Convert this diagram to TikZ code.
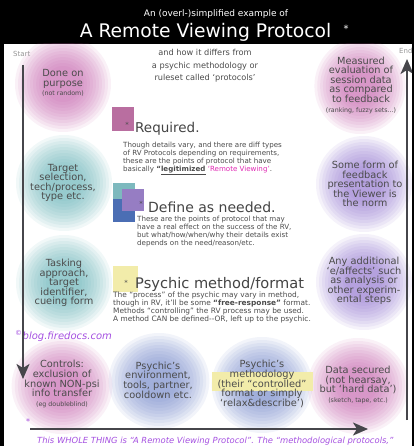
\documentclass[tikz,border=0pt]{standalone}
\usepackage{fontspec}
\setmainfont{DejaVu Sans}
\usetikzlibrary{arrows.meta}
\definecolor{txt}{RGB}{75,75,75}
\definecolor{gpink}{RGB}{200,100,175}
\definecolor{gteal}{RGB}{100,180,185}
\definecolor{gpurple}{RGB}{145,115,210}
\definecolor{gblue}{RGB}{115,135,205}
\definecolor{sqpink}{RGB}{185,110,160}
\definecolor{sqteal}{RGB}{125,185,190}
\definecolor{sqblue}{RGB}{75,110,180}
\definecolor{sqpurple}{RGB}{150,125,195}
\definecolor{sqyellow}{RGB}{242,236,170}
\definecolor{rvpink}{RGB}{225,40,180}
\definecolor{footpurple}{RGB}{165,80,225}
\definecolor{arrowgray}{RGB}{70,70,75}
\definecolor{labelgray}{RGB}{150,150,150}
\newcommand\glowblob[4]{%
  \foreach \rr in {48,45,...,18}{\fill[#3,opacity=0.09] (#1,#2) ellipse ({#4*\rr pt} and {\rr pt});}}
\newcommand\smalltxt[1]{{\fontsize{6.3}{8}\selectfont #1}}
\tikzset{
  circ/.style={text=txt, align=center, font=\fontsize{9.8}{9.6}\selectfont, inner sep=0pt},
  body/.style={text=txt, align=left, font=\fontsize{7.1}{8}\selectfont, inner sep=0pt, anchor=north west},
  head/.style={text=txt!90!black, font=\fontsize{13.5}{14}\selectfont, inner sep=0pt, anchor=base west},
  hstar/.style={text=txt, font=\fontsize{7}{8}\selectfont, inner sep=0pt},
  arr/.style={draw=arrowgray, line width=2pt, -{Stealth[length=15pt, width=13pt, inset=4pt]}},
  corner/.style={text=labelgray, font=\fontsize{7}{8}\selectfont, inner sep=0pt}
}
\begin{document}
\begin{tikzpicture}[x=1pt, y=-1pt]
\useasboundingbox (0,0) rectangle (414,446);
\fill[black] (0,0) rectangle (414,446);
\fill[white] (4,44) rectangle (412,446);
\node[white, font=\fontsize{9}{10}\selectfont, inner sep=0pt] (t1) at (216,14) {An (overl-)simplified example of};
\node[white, font=\fontsize{18.7}{20}\selectfont, inner sep=0pt] (t2) at (205.5,32) {A Remote Viewing Protocol};
\node[white, font=\fontsize{10}{10}\selectfont, inner sep=0pt] (t3) at (346,29) {*};
\begin{scope}
\clip (4,44) rectangle (412,446);
% glows
\glowblob{63}{84}{gpink}{1}
\glowblob{64}{183}{gteal}{1}
\glowblob{64}{283}{gteal}{1}
\glowblob{62}{386}{gpink}{1.05}
\glowblob{159}{381}{gblue}{1.05}
\glowblob{262}{385}{gblue}{1.05}
\glowblob{358}{386}{gpink}{1.05}
\glowblob{364}{282}{gpurple}{1}
\glowblob{364}{184}{gpurple}{1}
\glowblob{360}{86}{gpink}{0.95}
% corner labels
\node[corner, anchor=west] (start) at (13,54) {Start};
\node[corner, anchor=west] (endl) at (399,51) {End};
% subtitle
\node[text=txt, align=center, font=\fontsize{8.2}{12.5}\selectfont, inner sep=0pt] (sub) at (205,66)
  {and how it differs from\\a psychic methodology or\\ruleset called ‘protocols’};
% Required
\fill[sqpink] (112,107) rectangle (134,131);
\node[hstar] (s1) at (127,125) {*};
\node[head] (req) at (135,133) {Required.};
\node[body] (reqb) at (123,142) {Though details vary, and there are diff types\\of RV Protocols depending on requirements,\\these are the points of protocol that have\\basically \textbf{“\underline{legitimized}} {\color{rvpink}‘Remote Viewing’}.};
% Define
\fill[sqteal] (113,183) rectangle (135,199);
\fill[sqblue] (113,199) rectangle (135,222);
\fill[sqpurple] (122,189) rectangle (144,211);
\node[hstar] (s2) at (141,204) {*};
\node[head, font=\fontsize{14}{15}\selectfont] (def) at (148,212) {Define as needed.};
\node[body] (defb) at (137,216) {These are the points of protocol that may\\have a real effect on the success of the RV,\\but what/how/when/why their details exist\\depends on the need/reason/etc.};
% Psychic method
\fill[sqyellow] (113,266) rectangle (138,292);
\node[hstar] (s3) at (126,283) {*};
\node[head, font=\fontsize{14.6}{15}\selectfont] (psy) at (135,288) {Psychic method/format};
\node[body, font=\fontsize{7.4}{8}\selectfont] (psyb) at (113,292) {The “process” of the psychic may vary in method,\\though in RV, it’ll be some \textbf{“free-response”} format.\\Methods “controlling” the RV process may be used.\\A method CAN be defined{-}{-}OR, left up to the psychic.};
% blog
\node[anchor=west, text=footpurple, font=\fontsize{10}{10}\selectfont\itshape, inner sep=0pt] (blog) at (15,336) {\textsuperscript{©}blog.firedocs.com};
% highlight
\fill[sqyellow] (212,372) rectangle (313,391);
% circle texts
\node[circ] (done) at (63,83) {Done on\\purpose\\\smalltxt{(not random)}};
\node[circ] (target) at (63,183) {Target\\selection,\\tech/process,\\type etc.};
\node[circ] (tasking) at (64,283) {Tasking\\approach,\\target\\identifier,\\cueing form};
\node[circ] (controls) at (62,384) {Controls:\\exclusion of\\known NON-psi\\info transfer\\\smalltxt{(eg doubleblind)}};
\node[circ] (env) at (158,380) {Psychic’s\\environment,\\tools, partner,\\cooldown etc.};
\node[circ] (meth) at (262,384) {Psychic’s\\methodology\\(their “controlled”\\format or simply\\‘relax\&describe’)};
\node[circ] (data) at (358,385) {Data secured\\(not hearsay,\\but ‘hard data’)\\\smalltxt{(sketch, tape, etc.)}};
\node[circ] (addl) at (364,281) {Any additional\\‘e/affects’ such\\as analysis or\\other experim-\\ental steps};
\node[circ] (feed) at (365,184) {Some form of\\feedback\\presentation to\\the Viewer is\\the norm};
\node[circ] (meas) at (361,85) {Measured\\evaluation of\\session data\\as compared\\to feedback\\\smalltxt{(ranking, fuzzy sets...)}};
% arrows
\coordinate (ls) at (23,65);
\coordinate (le) at (23,379);
\coordinate (bs) at (30,429);
\coordinate (be) at (368,429);
\coordinate (rs) at (407,420);
\coordinate (re) at (407,59);
\draw[arr] (ls) -- (le);
\draw[arr] (bs) -- (be);
\draw[arr] (rs) -- (re);
% footnote
\node[text=footpurple, font=\fontsize{8}{9}\selectfont, inner sep=0pt] (fstar) at (28,422) {*};
\node[anchor=base west, text=footpurple, font=\fontsize{8.4}{9}\selectfont\itshape, inner sep=0pt] (foot) at (37,443) {This WHOLE THING is “A Remote Viewing Protocol”. The “methodological protocols,”};
\end{scope}
\end{tikzpicture}
\end{document}
